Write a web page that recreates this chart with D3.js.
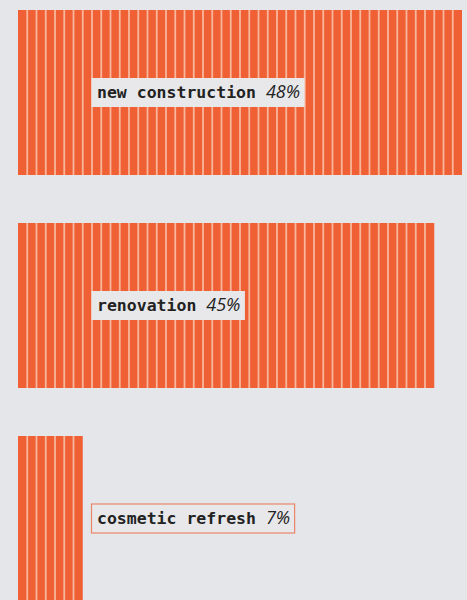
<!DOCTYPE html>
<html>
<head>
<meta charset="utf-8">
<script src="https://cdn.jsdelivr.net/npm/d3@7"></script>
<style>
  html, body { margin: 0; padding: 0; background: #e5e6e9; }
  svg { display: block; }
</style>
</head>
<body>
<figure style="margin:0"></figure>
<script>
var categories = ["new construction", "renovation", "cosmetic refresh"],
    values = [48, 45, 7];

var W = 467, H = 600,
    orange = "#ef6034",
    seam = "#f8b69c";

var svg = d3.select("figure").append("svg").attr("width", W).attr("height", H);

// one stripe per percent point
var x = d3.scaleLinear().domain([0, 48]).range([18, 462]);

// step 213px, bar 165px
var y = d3.scaleBand()
    .domain(categories)
    .range([10, 10 + 213 * 3 - 48])
    .paddingInner(48 / 213)
    .paddingOuter(0);

var g = svg.selectAll("g.bar")
    .data(categories)
  .enter().append("g")
    .attr("class", "bar");

g.append("rect")
    .attr("x", x(0))
    .attr("y", d => y(d))
    .attr("width", (d, i) => x(values[i]) - x(0))
    .attr("height", y.bandwidth())
    .attr("fill", orange);

g.selectAll("line")
    .data((d, i) => d3.range(1, values[i]).map(k => ({k: k, c: d})))
  .enter().append("line")
    .attr("x1", d => x(d.k))
    .attr("x2", d => x(d.k))
    .attr("y1", d => y(d.c))
    .attr("y2", d => y(d.c) + y.bandwidth())
    .attr("stroke", seam)
    .attr("stroke-width", 1.8);

// labels
var lab = g.append("g")
    .attr("transform", d => "translate(92," + (y(d) + y.bandwidth() / 2) + ")");

var txt = lab.append("text")
    .attr("x", 5)
    .attr("dy", "0.35em")
    .attr("fill", "#222");
txt.append("tspan")
    .style("font-family", "'DejaVu Sans Mono', monospace")
    .style("font-weight", "bold")
    .style("font-size", "16.5px")
    .text(d => d + " ");
txt.append("tspan")
    .style("font-family", "'Open Sans', sans-serif")
    .style("font-style", "italic")
    .style("font-size", "18px")
    .text((d, i) => values[i] + "%");

lab.each(function(d, i) {
  var b = d3.select(this).select("text").node().getBBox();
  d3.select(this).insert("rect", "text")
      .attr("x", -0.5)
      .attr("y", -14.5)
      .attr("width", b.width + 10)
      .attr("height", 29)
      .attr("fill", "#e8e8ea")
      .attr("stroke", x(values[i]) < 92 ? "#e9866a" : "none")
      .attr("stroke-width", 1.2);
});
</script>
</body>
</html>
